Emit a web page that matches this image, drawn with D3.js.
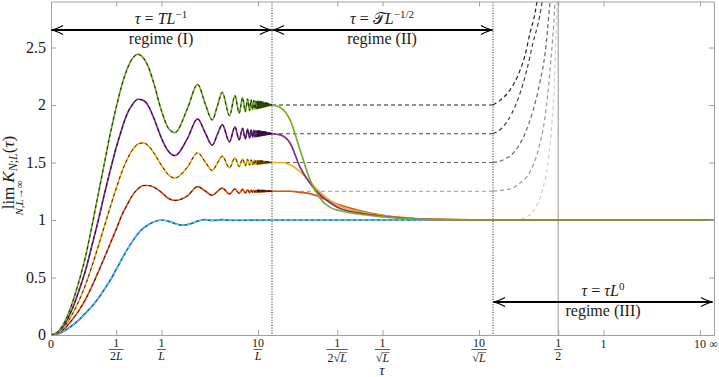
<!DOCTYPE html>
<html>
<head>
<meta charset="utf-8">
<script src="https://d3js.org/d3.v7.min.js"></script>
<style>
body { margin: 0; background: #fff; }
svg text { font-family: "Liberation Serif", "Times New Roman", serif; fill: #1a1a1a; }
</style>
</head>
<body>
<div id="chart"></div>
<script>
// ---- data ----
// regime I : t = tau*L ; regime II : s = tau*sqrt(L) ; regime III : tau
var tRise = [0,0.05,0.1,0.15,0.2,0.25,0.3,0.35,0.4,0.45,0.5,0.55,0.6,0.65,0.71,0.77,0.83,0.9,1.0,1.1];
var tOsc  = [1.21,1.46,1.71,1.96,2.21,2.46,2.71,3.21,3.71,4.21,4.71,5.21,5.71,6.21,6.71,7.21,7.71,8.21,8.71,9.21,9.71,Infinity];

var greenI  = [0,0.03,0.12,0.27,0.46,0.68,0.95,1.23,1.50,1.76,1.98,2.17,2.31,2.40,2.44,2.41,2.33,2.18,1.95,1.80,
               1.76,1.97,2.18,2.0,1.87,2.0,2.11,1.907,2.081,1.929,2.064,1.942,2.053,1.952,2.045,1.958,2.039,1.963,2.034,1.967,2.031,2.0];
var purpleI = [0,0.025,0.10,0.22,0.38,0.56,0.78,1.00,1.23,1.44,1.63,1.79,1.92,2.00,2.05,2.04,1.99,1.88,1.71,1.60,
               1.56,1.71,1.88,1.75,1.65,1.75,1.83,1.68,1.81,1.697,1.798,1.706,1.790,1.714,1.784,1.718,1.779,1.722,1.776,1.725,1.773,1.75];
var yellowI = [0,0.02,0.08,0.175,0.295,0.435,0.60,0.775,0.95,1.12,1.275,1.415,1.525,1.605,1.66,1.67,1.645,1.58,1.475,1.395,
               1.365,1.46,1.585,1.50,1.43,1.50,1.555,1.453,1.540,1.465,1.532,1.471,1.527,1.476,1.523,1.479,1.520,1.481,1.517,1.484,1.515,1.5];
var orangeI = [0,0.015,0.06,0.13,0.21,0.31,0.425,0.55,0.675,0.80,0.92,1.04,1.13,1.21,1.27,1.30,1.30,1.285,1.24,1.19,
               1.17,1.21,1.29,1.25,1.214,1.25,1.278,1.227,1.270,1.232,1.266,1.235,1.263,1.238,1.261,1.240,1.260,1.241,1.258,1.242,1.258,1.25];

var tBlue = [0,0.05,0.1,0.15,0.2,0.25,0.3,0.35,0.4,0.45,0.5,0.55,0.6,0.65,0.71,0.77,0.83,0.9,1.0,1.1,1.21,1.33,1.46,1.6,1.71,1.96,2.21,2.71,3.21,Infinity];
var blueI = [0,0.01,0.04,0.08,0.13,0.19,0.25,0.32,0.40,0.48,0.57,0.66,0.74,0.81,0.88,0.93,0.96,0.985,1.0,0.99,0.97,0.955,0.96,0.975,0.99,1.003,0.996,1.003,0.998,1.0];

// dense oscillation near the end of regime I (half-width of the envelope)
var tBand = [9.71,12,16,24,40,80,Infinity];
var ampGreen  = [0.031,0.025,0.019,0.0125,0.0075,0.004,0];
var ampPurple = [0.023,0.019,0.014,0.0094,0.0056,0.003,0];
var ampYellow = [0.0155,0.0125,0.0094,0.0063,0.0038,0.002,0];
var ampOrange = [0.0078,0.0063,0.0047,0.0031,0.0019,0.001,0];

var sII = [0,0.057,0.129,0.202,0.277,0.355,0.438,0.526,0.724,0.966,1.29,2.08,Infinity];
var greenII  = [2.0,1.98,1.87,1.61,1.35,1.19,1.11,1.08,1.05,1.03,1.015,1.004,1.0];
var purpleII = [1.75,1.74,1.67,1.46,1.32,1.22,1.15,1.10,1.06,1.035,1.018,1.005,1.0];
var yellowII = [1.5,1.5,1.48,1.42,1.33,1.24,1.17,1.12,1.07,1.04,1.02,1.005,1.0];
var orangeII = [1.25,1.25,1.25,1.24,1.23,1.20,1.16,1.13,1.08,1.045,1.022,1.006,1.0];
var blueII   = [1,1,1,1,1,1,1,1,1,1,1,1,1];

var tauIII = [0,Infinity];
var flatIII = [1,1];

// asymptotic (dashed grey) curves
var plateaus = [2,1.75,1.5,1.25,1.0];
var tau2   = [0,0.05,0.121,0.18,0.231,0.27,0.308,0.324,0.35];
var v2     = [2.0,2.04,2.13,2.26,2.43,2.63,2.80,2.91,3.1];
var tau175 = [0,0.064,0.136,0.194,0.244,0.292,0.344,0.366,0.39];
var v175   = [1.75,1.80,1.93,2.10,2.30,2.54,2.77,2.91,3.1];
var tau15  = [0,0.0855,0.158,0.231,0.292,0.347,0.388,0.429,0.445];
var v15    = [1.5,1.53,1.60,1.75,1.95,2.2,2.45,2.9,3.1];
var tau125 = [0,0.121,0.194,0.269,0.331,0.388,0.429,0.471,0.48];
var v125   = [1.25,1.27,1.32,1.42,1.6,1.9,2.3,2.9,3.1];
var tau1   = [0,0.158,0.231,0.308,0.363,0.412,0.446,0.471,0.488,0.492];
var v1     = [1.0,1.0,1.02,1.1,1.25,1.5,1.85,2.3,2.9,3.1];

var yTicks = [0,0.5,1,1.5,2,2.5];
var yTickLabels = ["0","0.5","1","1.5","2","2.5"];
// [regime, value in that regime's variable]
var xTicks = [[0,0],[0,0.5],[0,1],[0,10],[1,0.5],[1,1],[1,10],[2,0.5],[2,1],[2,10]];
var xTickNum = ["0","1","1","10","1","1","10","1","1","10"];
var xTickDen = [null,"2L","L","L","2√L","√L","√L","2",null,null];

// ---- setup ----
var W = 719, H = 377;
var svg = d3.select("#chart").append("svg").attr("width", W).attr("height", H);

var u = d3.scaleLinear().domain([0,3]).range([51,714]);
var y = d3.scaleLinear().domain([0,2.9]).range([335,1.5]);
function warp(r, t){ return r + Math.atan(t)*2/Math.PI; }
function xw(r, t){ return u(warp(r, t)); }

function pts(r, ts, vs){
  return ts.map(function(t,i){ return {x: xw(r,t), y: y(vs[i])}; });
}
var line = d3.line().x(function(d){return d.x;}).y(function(d){return d.y;}).curve(d3.curveMonotoneX);
var band = d3.area().x(function(d){return d.x;}).y0(function(d){return d.lo;}).y1(function(d){return d.hi;}).curve(d3.curveMonotoneX);

svg.append("clipPath").attr("id","clip").append("rect")
   .attr("x",51).attr("y",1.5).attr("width",663).attr("height",333.5);

var plot = svg.append("g").attr("clip-path","url(#clip)");

// vertical guides
plot.append("line").attr("x1",xw(2,0.5)).attr("x2",xw(2,0.5)).attr("y1",0).attr("y2",335)
    .attr("stroke","#8a8a8a").attr("stroke-width",0.9);
[1,2].forEach(function(r){
  plot.append("line").attr("x1",u(r)).attr("x2",u(r)).attr("y1",0).attr("y2",335)
      .attr("stroke","#333").attr("stroke-width",1.1).attr("stroke-dasharray","1,1.6");
});

// grey dashed asymptotic curves
var greys = ["#222","#444","#666","#999","#cfcfcf"];
var tauIIIcurves = [tau2,tau175,tau15,tau125,tau1];
var vIIIcurves = [v2,v175,v15,v125,v1];
plateaus.forEach(function(p,i){
  if (p > 1) {
    plot.append("path").attr("d", line(pts(1,[0,Infinity],[p,p])))
        .attr("fill","none").attr("stroke",greys[i]).attr("stroke-width",1.2).attr("stroke-dasharray","4,3");
  }
  plot.append("path").attr("d", line(pts(2,tauIIIcurves[i],vIIIcurves[i])))
      .attr("fill","none").attr("stroke",greys[i]).attr("stroke-width",1.2).attr("stroke-dasharray","4,3");
});

// main curves
var series = [
  {c:"#0072BD", tI:tBlue, vI:blueI, vII:blueII, amp:null, p:1, dash:"#9dd3f3"},
  {c:"#D95319", tI:tRise.concat(tOsc), vI:orangeI, vII:orangeII, amp:ampOrange, p:1.25, dash:"#000"},
  {c:"#EDB120", tI:tRise.concat(tOsc), vI:yellowI, vII:yellowII, amp:ampYellow, p:1.5, dash:"#000"},
  {c:"#7E2F8E", tI:tRise.concat(tOsc), vI:purpleI, vII:purpleII, amp:ampPurple, p:1.75, dash:"#000"},
  {c:"#77AC30", tI:tRise.concat(tOsc), vI:greenI, vII:greenII, amp:ampGreen, p:2, dash:"#000"}
];

series.forEach(function(s){
  var bandPts = null;
  if (s.amp) {
    bandPts = tBand.map(function(t,i){ return {x: xw(0,t), lo: y(s.p - s.amp[i]), hi: y(s.p + s.amp[i])}; });
    plot.append("path").attr("d", band(bandPts)).attr("fill", s.c).attr("stroke", s.c).attr("stroke-width",1.4);
  }
  [[0,s.tI,s.vI],[1,sII,s.vII],[2,tauIII,flatIII]].forEach(function(seg){
    plot.append("path").attr("d", line(pts(seg[0],seg[1],seg[2])))
        .attr("fill","none").attr("stroke",s.c).attr("stroke-width",1.7);
  });
  plot.append("path").attr("d", line(pts(0,s.tI,s.vI)))
      .attr("fill","none").attr("stroke",s.dash).attr("stroke-width",1)
      .attr("stroke-dasharray","3,3").attr("stroke-opacity", s.amp ? 0.8 : 1);
  if (!s.amp) {
    plot.append("path").attr("d", line(pts(1,sII,s.vII)))
        .attr("fill","none").attr("stroke",s.dash).attr("stroke-width",1).attr("stroke-dasharray","3,3");
  } else {
    plot.append("path").attr("d", band(bandPts)).attr("fill","#000").attr("fill-opacity",0.6)
        .attr("stroke","#000").attr("stroke-opacity",0.5).attr("stroke-width",0.8);
  }
});

// ---- axes (frame with inward ticks) ----
var xTickVals = xTicks.map(function(d){ return warp(d[0], d[1]); });
function styleAxis(g){
  g.attr("font-family", null);
  g.selectAll(".domain").attr("stroke","#a0a0a0");
  g.selectAll(".tick line").attr("stroke","#a0a0a0");
}
svg.append("g").attr("transform","translate(0,335)")
   .call(d3.axisBottom(u).tickValues(xTickVals).tickSize(-5).tickSizeOuter(0).tickFormat(""))
   .call(styleAxis);
svg.append("g").attr("transform","translate(0,1.5)")
   .call(d3.axisTop(u).tickValues(xTickVals).tickSize(-5).tickSizeOuter(0).tickFormat(""))
   .call(styleAxis);
svg.append("g").attr("transform","translate(51,0)")
   .call(d3.axisLeft(y).tickValues(yTicks).tickSize(-5).tickSizeOuter(0).tickFormat(""))
   .call(styleAxis);
svg.append("g").attr("transform","translate(714,0)")
   .call(d3.axisRight(y).tickValues(yTicks).tickSize(-5).tickSizeOuter(0).tickFormat(""))
   .call(styleAxis);

// y tick labels
svg.append("g").selectAll("text").data(yTicks).join("text")
   .attr("x",46).attr("y",function(d){return y(d);}).attr("dy","0.33em")
   .attr("text-anchor","end").style("font-size","16px")
   .text(function(d,i){return yTickLabels[i];});

// x tick labels (fractions)
var xl = svg.append("g").style("font-size","12px");
xTicks.forEach(function(d,i){
  var x = u(xTickVals[i]);
  var den = xTickDen[i];
  if (den === null) {
    xl.append("text").attr("x",x).attr("y",348).attr("text-anchor","middle").text(xTickNum[i]);
    return;
  }
  xl.append("text").attr("x",x).attr("y",346.5).attr("text-anchor","middle").text(xTickNum[i]);
  var root = den.indexOf("√") >= 0;
  var html = den.replace(/L$/, '<tspan font-style="italic">L</tspan>');
  var t = xl.append("text").attr("x",x).attr("y", root ? 361.5 : 359.5).attr("text-anchor","middle").html(html);
  var n = t.node();
  var w = Math.max(n.getComputedTextLength(), 6);
  xl.append("line").attr("x1",x-w/2-1).attr("x2",x+w/2+1).attr("y1",349.5).attr("y2",349.5)
    .attr("stroke","#1a1a1a").attr("stroke-width",0.7);
  if (root) {
    var k = n.getNumberOfChars() - 1;
    var a = n.getStartPositionOfChar(k).x - 0.5, b = n.getEndPositionOfChar(k).x + 0.5;
    xl.append("line").attr("x1",a).attr("x2",b).attr("y1",352.6).attr("y2",352.6)
      .attr("stroke","#1a1a1a").attr("stroke-width",0.6);
  }
});
xl.append("text").attr("x",713.5).attr("y",348).attr("text-anchor","middle").style("font-size","12px").text("∞");

// axis titles
svg.append("text").attr("x",382).attr("y",375).attr("text-anchor","middle")
   .style("font-size","15px").style("font-style","italic").text("τ");
var lim = svg.append("text").attr("transform","translate(14,198) rotate(-90)").attr("text-anchor","middle")
   .style("font-size","17px").text("lim");
var limLen = lim.node().getComputedTextLength();
svg.append("text").attr("transform","translate(23,198) rotate(-90)").attr("text-anchor","middle")
   .style("font-size","11px")
   .html('<tspan font-style="italic">N</tspan>,<tspan font-style="italic">L</tspan>→∞');
svg.append("text").attr("transform","translate(14," + (198 - limLen/2 - 4) + ") rotate(-90)")
   .style("font-size","17px")
   .html('<tspan font-style="italic">K</tspan><tspan font-style="italic" font-size="12" dy="3">N</tspan><tspan font-size="12">;</tspan><tspan font-style="italic" font-size="12">L</tspan><tspan dy="-3">(</tspan><tspan font-style="italic">τ</tspan>)');

// ---- regime arrows ----
function arrow(x1, x2, yy){
  var g = svg.append("g").attr("fill","none").attr("stroke","#000");
  g.append("line").attr("x1",x1+1).attr("x2",x2-1).attr("y1",yy).attr("y2",yy).attr("stroke-width",1.9);
  g.append("path").attr("stroke-width",1.1)
   .attr("d","M"+(x1+12)+","+(yy-4.5)+" Q"+(x1+5)+","+(yy-0.6)+" "+x1+","+yy+" Q"+(x1+5)+","+(yy+0.6)+" "+(x1+12)+","+(yy+4.5));
  g.append("path").attr("stroke-width",1.1)
   .attr("d","M"+(x2-12)+","+(yy-4.5)+" Q"+(x2-5)+","+(yy-0.6)+" "+x2+","+yy+" Q"+(x2-5)+","+(yy+0.6)+" "+(x2-12)+","+(yy+4.5));
}
arrow(u(0), u(1), 30);
arrow(u(1), u(2), 30);
arrow(u(2), u(3)-1, 302);

function label(x, yy, html, sub){
  svg.append("text").attr("x",x).attr("y",yy).attr("text-anchor","middle").style("font-size","16px").html(html);
  svg.append("text").attr("x",x).attr("y",yy+20).attr("text-anchor","middle").style("font-size","16px").text(sub);
}
label(161, 24, '<tspan font-style="italic">τ</tspan> = <tspan font-style="italic">TL</tspan><tspan dy="-6" font-size="11">−1</tspan>', "regime (I)");
label(382, 24, '<tspan font-style="italic">τ</tspan> = 𝒯<tspan font-style="italic">L</tspan><tspan dy="-6" font-size="11">−1/2</tspan>', "regime (II)");
label(603, 296, '<tspan font-style="italic">τ</tspan> = <tspan font-style="italic">τL</tspan><tspan dy="-6" font-size="11">0</tspan>', "regime (III)");
</script>
</body>
</html>
